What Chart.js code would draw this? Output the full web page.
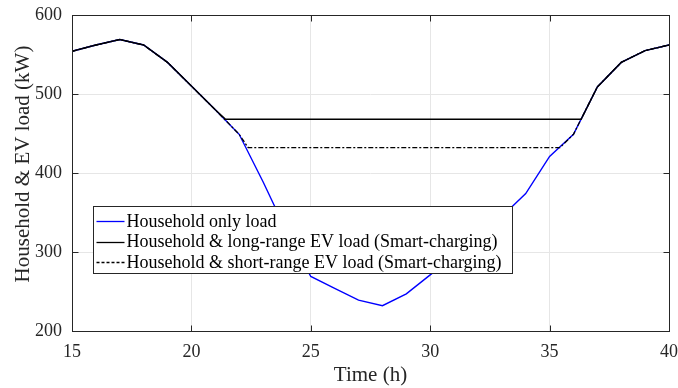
<!DOCTYPE html>
<html>
<head>
<meta charset="utf-8">
<script src="https://cdn.jsdelivr.net/npm/chart.js@4.4.1/dist/chart.umd.min.js"></script>
<style>
  html, body { margin: 0; padding: 0; background: #fff; }
</style>
</head>
<body>
<canvas id="loadChart" width="678" height="388"></canvas>
<script>
// Données (heure -> charge en kW)
const hours = [15, 16, 17, 18, 19, 20, 21, 22, 23, 24, 25, 26, 27, 28, 29, 30, 31, 32, 33, 34, 35, 36, 37, 38, 39, 40];
const householdLoad = [554, 562, 569, 562, 540, 510, 480, 449, 389, 325, 269, 254, 239, 232, 247, 271, 295, 320, 345, 374, 421, 449, 509, 540, 555, 562];

// Longue autonomie : plateau à ~468 kW
const longRangeHours = [15, 16, 17, 18, 19, 20, 21, 21.43, 36.32, 37, 38, 39, 40];
const longRangeLoad = [554, 562, 569, 562, 540, 510, 480, 468, 468, 509, 540, 555, 562];

// Courte autonomie : plateau à ~432 kW
const shortRangeHours = [15, 16, 17, 18, 19, 20, 21, 22, 22.38, 35.43, 36, 37, 38, 39, 40];
const shortRangeLoad = [554, 562, 569, 562, 540, 510, 480, 449, 432, 432, 449, 509, 540, 555, 562];

const xTicks = [15, 20, 25, 30, 35, 40];
const yTicks = [200, 300, 400, 500, 600];

const legendLabels = [
  'Household only load',
  'Household & long-range EV load (Smart-charging)',
  'Household & short-range EV load (Smart-charging)'
];
const yTitle = 'Household & EV load (kW)';

const serif = 'Liberation Serif, Times New Roman, serif';
const toPoints = (xs, ys) => xs.map((v, i) => ({ x: v, y: ys[i] }));

// cadre + graduations vers l'intérieur + légende dans la zone du tracé
const framePlugin = {
  id: 'frame',
  afterDatasetsDraw(chart) {
    const { ctx, chartArea: a, scales } = chart;
    const L = Math.round(a.left) + 0.5, R = Math.round(a.right) + 0.5;
    const T = Math.round(a.top) + 0.5, B = Math.round(a.bottom) + 0.5;
    ctx.save();
    ctx.strokeStyle = '#262626';
    ctx.lineWidth = 1;
    ctx.strokeRect(L, T, R - L, B - T);
    ctx.beginPath();
    xTicks.forEach(v => {
      const px = Math.round(scales.x.getPixelForValue(v)) + 0.5;
      ctx.moveTo(px, B); ctx.lineTo(px, B - 6);
      ctx.moveTo(px, T); ctx.lineTo(px, T + 6);
    });
    yTicks.forEach(v => {
      const py = Math.round(scales.y.getPixelForValue(v)) + 0.5;
      ctx.moveTo(L, py); ctx.lineTo(L + 6, py);
      ctx.moveTo(R, py); ctx.lineTo(R - 6, py);
    });
    ctx.stroke();

    // titre de l'axe y
    ctx.save();
    ctx.translate(23, 164);
    ctx.rotate(-Math.PI / 2);
    ctx.font = '21px ' + serif;
    ctx.fillStyle = '#262626';
    ctx.textAlign = 'center';
    ctx.textBaseline = 'middle';
    ctx.fillText(yTitle, 0, 0);
    ctx.restore();

    // légende
    const bx = L + 21, by = 206.5, bw = 419, bh = 67;
    ctx.fillStyle = '#fff';
    ctx.fillRect(bx, by, bw, bh);
    ctx.strokeStyle = '#262626';
    ctx.strokeRect(bx, by, bw, bh);
    const styles = [
      { color: '#0000ff', dash: [] },
      { color: '#000000', dash: [] },
      { color: '#000000', dash: [3, 2] }
    ];
    ctx.font = '18px ' + serif;
    ctx.textBaseline = 'middle';
    legendLabels.forEach((txt, i) => {
      const cy = by + 14.5 + i * 20.7;
      ctx.beginPath();
      ctx.setLineDash(styles[i].dash);
      ctx.strokeStyle = styles[i].color;
      ctx.lineWidth = 1.3;
      ctx.moveTo(bx + 3, Math.round(cy) + 0.5);
      ctx.lineTo(bx + 31, Math.round(cy) + 0.5);
      ctx.stroke();
      ctx.setLineDash([]);
      ctx.fillStyle = '#000';
      ctx.fillText(txt, bx + 33, cy + 1);
    });
    ctx.restore();
  }
};

const ctx = document.getElementById('loadChart').getContext('2d');
const loadChart = new Chart(ctx, {
  type: 'line',
  data: {
    datasets: [
      {
        label: legendLabels[1],
        data: toPoints(longRangeHours, longRangeLoad),
        borderColor: '#000000',
        borderWidth: 1.4
      },
      {
        label: legendLabels[2],
        data: toPoints(shortRangeHours, shortRangeLoad),
        borderColor: '#000000',
        borderWidth: 1.3,
        borderDash: [5, 2, 2, 2]
      },
      {
        label: legendLabels[0],
        data: toPoints(hours, householdLoad),
        borderColor: '#0000ff',
        borderWidth: 1.4
      }
    ]
  },
  options: {
    responsive: false,
    devicePixelRatio: 1,
    animation: false,
    elements: { point: { radius: 0 }, line: { tension: 0 } },
    layout: { padding: { top: 15, right: 9, left: 0, bottom: 0 } },
    plugins: { legend: { display: false }, tooltip: { enabled: false } },
    scales: {
      x: {
        type: 'linear',
        min: 15, max: 40,
        afterFit: s => { s.height = 57; s.paddingLeft = 0; s.paddingRight = 0; },
        afterBuildTicks: s => { s.ticks = xTicks.map(v => ({ value: v })); },
        ticks: { color: '#262626', font: { family: serif, size: 18 }, padding: 10, maxRotation: 0 },
        grid: { color: '#e6e6e6', drawTicks: false },
        border: { display: false },
        title: { display: true, text: 'Time (h)', color: '#262626', font: { family: serif, size: 21 }, padding: 0 }
      },
      y: {
        min: 200, max: 600,
        afterFit: s => { s.width = 72; s.paddingTop = 0; s.paddingBottom = 0; },
        afterBuildTicks: s => { s.ticks = yTicks.map(v => ({ value: v })); },
        ticks: { color: '#262626', font: { family: serif, size: 18 }, padding: 10 },
        grid: { color: '#e6e6e6', drawTicks: false },
        border: { display: false },
        title: { display: false }
      }
    }
  },
  plugins: [framePlugin]
});
</script>
</body>
</html>
